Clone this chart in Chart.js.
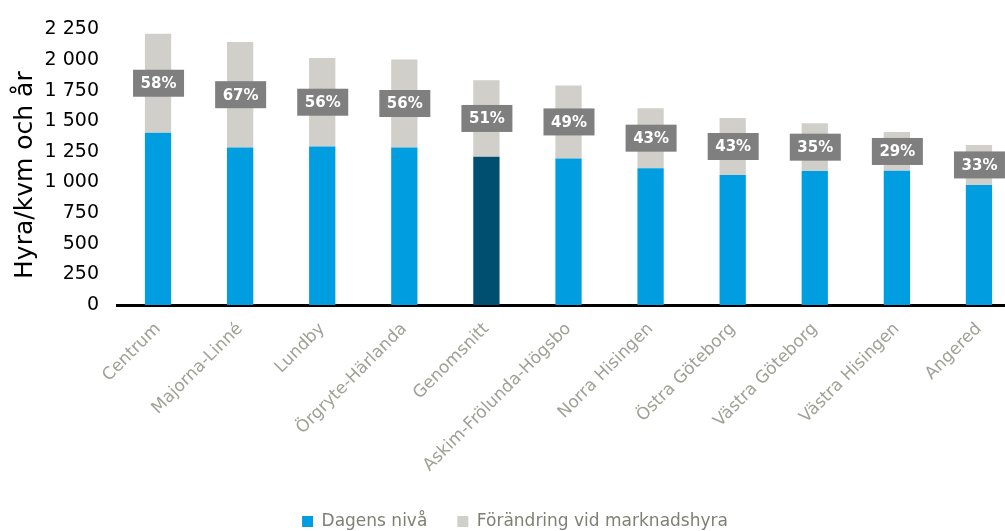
<!DOCTYPE html>
<html lang="sv">
<head>
    <meta charset="UTF-8">
    <title>Hyra/kvm och år</title>
    <script src="https://cdn.jsdelivr.net/npm/chart.js"></script>
    <style>
        html, body { margin: 0; padding: 0; background: #fff; overflow: hidden; }
        #wrap { width: 1020px; height: 540px; }
    </style>
</head>
<body>
    <div id="wrap"><canvas id="rent-chart"></canvas></div>

    <script>
        // Data
        const areas = ['Centrum', 'Majorna-Linné', 'Lundby', 'Örgryte-Härlanda', 'Genomsnitt',
            'Askim-Frölunda-Högsbo', 'Norra Hisingen', 'Östra Göteborg', 'Västra Göteborg',
            'Västra Hisingen', 'Angered'];
        const dagensNiva = [1406, 1286, 1294, 1286, 1211, 1197, 1117, 1061, 1093, 1095, 980];
        const forandring = [809, 862, 723, 718, 624, 595, 490, 466, 391, 317, 327];
        const pctLabels = ['58%', '67%', '56%', '56%', '51%', '49%', '43%', '43%', '35%', '29%', '33%'];
        const yTicks = [0, 250, 500, 750, 1000, 1250, 1500, 1750, 2000, 2250];

        const FONT = "'DejaVu Sans', sans-serif";

        // Genomsnitt gets the dark colour
        const blueColors = areas.map(a => a === 'Genomsnitt' ? '#004f70' : '#009ee0');

        // Grey boxes with the percentage, centred on the grey segment
        const pctBoxes = {
            id: 'pctBoxes',
            afterDatasetsDraw(chart) {
                const ctx = chart.ctx;
                const meta = chart.getDatasetMeta(1);
                ctx.save();
                ctx.font = "bold 15px " + FONT;
                ctx.textAlign = 'center';
                ctx.textBaseline = 'middle';
                meta.data.forEach((bar, i) => {
                    const cy = (bar.y + bar.base) / 2;
                    ctx.fillStyle = '#7f7f7f';
                    ctx.fillRect(bar.x - 25, cy - 13.5, 51, 27);
                    ctx.fillStyle = '#ffffff';
                    ctx.fillText(pctLabels[i], bar.x + 0.5, cy + 1);
                });
                ctx.restore();
            }
        };

        new Chart(document.getElementById('rent-chart'), {
            type: 'bar',
            data: {
                labels: areas,
                datasets: [
                    {
                        label: 'Dagens nivå',
                        data: dagensNiva,
                        backgroundColor: blueColors,
                        categoryPercentage: 1,
                        barPercentage: 0.32
                    },
                    {
                        label: 'Förändring vid marknadshyra',
                        data: forandring,
                        backgroundColor: '#d0cfca',
                        categoryPercentage: 1,
                        barPercentage: 0.32
                    }
                ]
            },
            options: {
                responsive: true,
                maintainAspectRatio: false,
                animation: false,
                layout: { padding: { top: 13, left: 10, right: 0, bottom: 0 } },
                plugins: {
                    tooltip: { enabled: false },
                    legend: {
                        position: 'bottom',
                        labels: {
                            boxWidth: 11,
                            boxHeight: 11,
                            padding: 30,
                            color: '#7f7f75',
                            font: { family: FONT, size: 17 },
                            generateLabels(chart) {
                                return chart.data.datasets.map((ds, i) => ({
                                    text: ds.label,
                                    fillStyle: i === 0 ? '#009ee0' : '#d0cfca',
                                    strokeStyle: 'rgba(0,0,0,0)',
                                    lineWidth: 0,
                                    fontColor: '#7f7f75',
                                    datasetIndex: i
                                }));
                            }
                        }
                    }
                },
                scales: {
                    x: {
                        stacked: true,
                        grid: { display: false, drawTicks: false },
                        border: { display: true, color: '#000000', width: 3 },
                        ticks: {
                            autoSkip: false,
                            minRotation: 45,
                            maxRotation: 45,
                            padding: 14,
                            color: '#a0a096',
                            font: { family: FONT, size: 17 }
                        },
                        afterFit(scale) { scale.height = 178; }
                    },
                    y: {
                        stacked: true,
                        min: 0,
                        max: 2250,
                        afterBuildTicks(scale) { scale.ticks = yTicks.map(v => ({ value: v })); },
                        grid: { display: false, drawTicks: false },
                        border: { display: false },
                        ticks: {
                            padding: 18,
                            color: '#000000',
                            font: { family: FONT, size: 19 },
                            callback: v => String(v).replace(/\B(?=(\d{3})+(?!\d))/g, ' ')
                        },
                        title: {
                            display: true,
                            // trailing spaces nudge the centred title down a little
                            text: 'Hyra/kvm och år  ',
                            color: '#000000',
                            font: { family: FONT, size: 25 },
                            padding: { top: 0, bottom: 2 }
                        },
                        afterFit(scale) { scale.width = 107; }
                    }
                }
            },
            plugins: [pctBoxes]
        });
    </script>
</body>
</html>
